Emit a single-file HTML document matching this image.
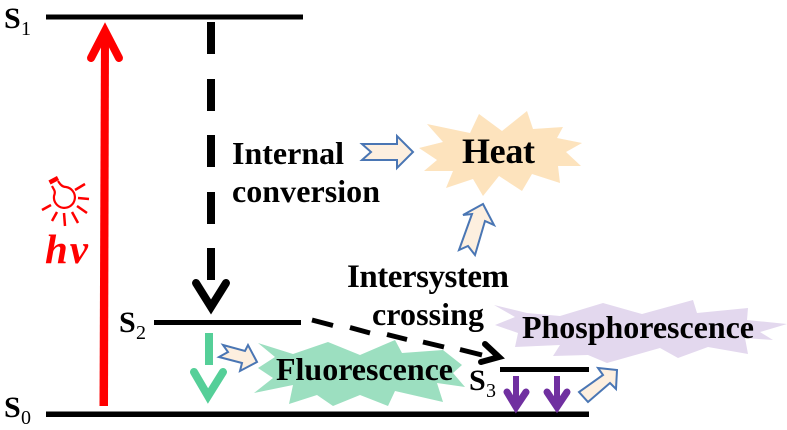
<!DOCTYPE html>
<html>
<head>
<meta charset="utf-8">
<style>
html,body{margin:0;padding:0;background:#fff;width:787px;height:430px;overflow:hidden}
svg{display:block;filter:blur(0.3px)}
text{font-family:"Liberation Serif",serif;font-weight:bold;fill:#000}
</style>
</head>
<body>
<svg width="787" height="430" viewBox="0 0 787 430" xmlns="http://www.w3.org/2000/svg">
<!-- bursts -->
<polygon fill="#fde3bd" points="419,148 443,142 427,124 470,133 479,114 502,131 527,111 533,129 563,127 557,138 582,143 566,152 581,166 558,166 560,183 532,174 522,191 499,176 483,196 473,179 446,188 453,171 424,171 437,160"/>
<polygon fill="#9cdfc0" points="258,343 293,354 328,342 360,355 395,340 402,353 443,350 462,365 453,373 465,387 437,383 443,402 395,391 388,406 360,395 333,406 317,395 289,404 293,385 254,393 273,378 258,368 275,357"/>
<polygon fill="#e3d8ee" points="494,305 527,313 560,316 603,303 642,314 693,300 697,313 748,308 747,320 787,324 760,332 773,340 745,338 748,354 708,347 678,358 660,348 607,363 588,355 553,356 560,345 515,347 518,333 495,325 515,317"/>

<!-- levels -->
<g fill="#000">
<rect x="46" y="14.5" width="257" height="5"/>
<rect x="46" y="411.5" width="543" height="5.5"/>
<rect x="154" y="320" width="147" height="5"/>
<rect x="500" y="367" width="89" height="5"/>
</g>

<!-- red arrow -->
<polygon points="101,34 109,34 108,406 99.500,406" fill="#ff0000"/>
<polyline points="91,58 105,31 119,58" fill="none" stroke="#ff0000" stroke-width="8" stroke-linecap="round" stroke-linejoin="miter"/>

<!-- black vertical dashed arrow -->
<g fill="#000">
<rect x="207" y="22" width="8" height="32"/>
<rect x="207" y="79" width="8" height="32"/>
<rect x="207" y="135" width="8" height="32"/>
<rect x="207" y="192" width="8" height="32"/>
<rect x="207" y="248" width="8" height="32"/>
</g>
<polyline points="196,283 211,307 226,283" fill="none" stroke="#000" stroke-width="8" stroke-linecap="round"/>

<!-- black dashed diagonal -->
<g stroke="#000" stroke-width="5" fill="none">
<line x1="312" y1="320" x2="333" y2="325.5"/>
<line x1="350" y1="327.5" x2="370" y2="333"/>
<line x1="387" y1="334.5" x2="407" y2="339.5"/>
<line x1="423" y1="342" x2="444" y2="347"/>
<line x1="460" y1="349.5" x2="482" y2="355"/>
<polyline points="485,344 499,357 481,362" stroke-width="6" stroke-linecap="round"/>
</g>

<!-- green arrow -->
<rect x="205" y="333" width="8" height="32" fill="#55cf98"/>
<polyline points="194,372 208,396 223,372" fill="none" stroke="#55cf98" stroke-width="8" stroke-linecap="round"/>

<!-- purple arrows -->
<g fill="none" stroke="#7030a0" stroke-width="7" stroke-linecap="round">
<line x1="516" y1="376" x2="516" y2="406" stroke-width="6" stroke-linecap="butt"/>
<polyline points="507,392 516,407 526,392"/>
<line x1="557" y1="376" x2="557" y2="406" stroke-width="6" stroke-linecap="butt"/>
<polyline points="547,392 557,407 567,392"/>
</g>

<!-- block arrows -->
<g fill="#fdefdf" stroke="#4a76b4" stroke-width="2" stroke-linejoin="miter">
<polygon points="362,144 397,144 397,136 413,152 397,168 397,160 362,160 371,152"/>
<polygon points="483,204 494,225 485,221 475,255 468,246 459,250 472,214 463,215"/>
<polygon points="223,345 245,351 248,345 257,362 240,371 242,363 219,357 228,352"/>
<polygon points="617,370 598,368 603,375 579,392 588,402 610,383 616,389"/>
</g>

<!-- bulb -->
<g fill="none" stroke="#ff0000" stroke-width="2.2">
<path d="M52,186 C54,190 56,191 54,196 A10.500,10.500 0 1 0 66,187 C62,187 60,184 58,181"/>
<line x1="49.500" y1="182.500" x2="58" y2="178" stroke-width="4.500"/>
<g stroke-width="2.500">
<line x1="75" y1="190" x2="85" y2="184"/>
<line x1="78" y1="198" x2="89" y2="199"/>
<line x1="77" y1="206" x2="87" y2="213"/>
<line x1="72" y1="212" x2="78" y2="223"/>
<line x1="64" y1="213" x2="65" y2="226"/>
<line x1="57" y1="212" x2="52" y2="221"/>
<line x1="51" y1="205" x2="42" y2="210"/>
</g>
</g>
<text x="45" y="263" font-size="41" font-style="italic" style="fill:#ff0000" textLength="43">hv</text>

<!-- labels -->
<text x="4" y="28" font-size="30">S</text><text x="21" y="35" font-size="20" style="font-weight:normal">1</text>
<text x="4" y="417" font-size="30">S</text><text x="21" y="424" font-size="20" style="font-weight:normal">0</text>
<text x="119" y="332" font-size="30">S</text><text x="136" y="339" font-size="20" style="font-weight:normal">2</text>
<text x="469" y="390" font-size="30">S</text><text x="486" y="397" font-size="20" style="font-weight:normal">3</text>

<text x="232" y="164" font-size="32" textLength="112">Internal</text>
<text x="232" y="202" font-size="32" textLength="148">conversion</text>
<text x="462" y="163" font-size="36" textLength="73">Heat</text>
<text x="347" y="287" font-size="33" textLength="162">Intersystem</text>
<text x="372" y="325" font-size="32" textLength="112">crossing</text>
<text x="276" y="380" font-size="32" textLength="177">Fluorescence</text>
<text x="522" y="338" font-size="32" textLength="232">Phosphorescence</text>
</svg>
</body>
</html>
